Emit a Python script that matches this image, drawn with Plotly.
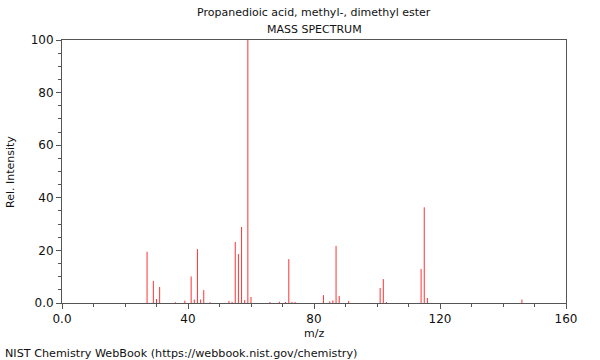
import plotly.graph_objects as go

# m/z values and relative intensities
mz = [27, 29, 30, 31, 36, 39, 41, 42, 43, 44, 45, 47,
      53, 54, 55, 56, 57, 58, 59, 60, 66, 69, 71, 72, 73, 74,
      83, 85, 86, 87, 88, 91, 101, 102, 103, 114, 115, 116, 146]
intensity = [19.5, 8.4, 1.5, 6.1, 0.3, 0.9, 10.1, 1.3, 20.5, 1.3, 4.9, 0.3,
             0.8, 0.4, 23.2, 18.6, 28.9, 1.1, 100.0, 2.3, 0.4, 0.5, 0.4, 16.7, 0.4, 0.4,
             3.0, 0.6, 1.0, 21.7, 2.7, 0.8, 5.7, 9.1, 0.4, 12.9, 36.4, 1.9, 1.3]

x_ticks = [0, 40, 80, 120, 160]
x_tick_labels = ["0.0", "40", "80", "120", "160"]
y_ticks = [0, 20, 40, 60, 80, 100]
y_tick_labels = ["0.0", "20", "40", "60", "80", "100"]

title_line1 = "Propanedioic acid, methyl-, dimethyl ester"
title_line2 = "MASS SPECTRUM"
footer = "NIST Chemistry WebBook (https://webbook.nist.gov/chemistry)"

xs, ys = [], []
for m, i in zip(mz, intensity):
    xs += [m, m, None]
    ys += [0, i, None]

FONT = "DejaVu Sans"
TXT = "#111111"
AX = "#555555"

fig = go.Figure()
fig.add_trace(go.Scatter(x=xs, y=ys, mode="lines",
                         line=dict(color="#ff3333", width=1),
                         hoverinfo="skip", showlegend=False))

fig.update_layout(
    width=600, height=360,
    margin=dict(l=62, r=34, t=40, b=57),
    paper_bgcolor="white", plot_bgcolor="white",
    font=dict(family=FONT, size=12, color=TXT),
    showlegend=False,
)
fig.update_xaxes(
    range=[0, 160], showgrid=False, zeroline=False,
    showline=True, linecolor=AX, linewidth=1, mirror=True,
    tickmode="array", tickvals=x_ticks, ticktext=x_tick_labels,
    ticks="outside", ticklen=5, tickcolor=AX, tickwidth=1,
    tickfont=dict(family=FONT, size=12, color=TXT),
    minor=dict(dtick=10, ticks="outside", ticklen=3, tickcolor=AX, showgrid=False),
)
fig.update_yaxes(
    range=[0, 100], showgrid=False, zeroline=False,
    showline=True, linecolor=AX, linewidth=1, mirror=True,
    tickmode="array", tickvals=y_ticks, ticktext=y_tick_labels,
    ticks="outside", ticklen=5, tickcolor=AX, tickwidth=1,
    tickfont=dict(family=FONT, size=12, color=TXT),
    minor=dict(dtick=5, ticks="outside", ticklen=3, tickcolor=AX, showgrid=False),
)

annots = [
    dict(text=title_line1, x=0.5, y=(303 - 13) / 263, xanchor="center", yanchor="middle",
         font=dict(family=FONT, size=11, color=TXT)),
    dict(text=title_line2, x=0.5, y=(303 - 30) / 263, xanchor="center", yanchor="middle",
         font=dict(family=FONT, size=11, color=TXT)),
    dict(text="m/z", x=0.5, y=(303 - 333) / 263, xanchor="center", yanchor="middle",
         font=dict(family=FONT, size=11, color=TXT)),
    dict(text="Rel. Intensity", x=(10 - 62) / 504, y=(303 - 172) / 263, xanchor="center",
         yanchor="middle", textangle=-90, font=dict(family=FONT, size=11, color=TXT)),
    dict(text=footer, x=(3 - 62) / 504, y=(303 - 353) / 263, xanchor="left", yanchor="middle",
         font=dict(family=FONT, size=11.2, color=TXT)),
]
for a in annots:
    fig.add_annotation(xref="paper", yref="paper", showarrow=False, **a)

fig.write_html("out.html",
               config={"displayModeBar": False},
               post_script="document.body.style.margin='0';document.body.style.overflow='hidden';")
